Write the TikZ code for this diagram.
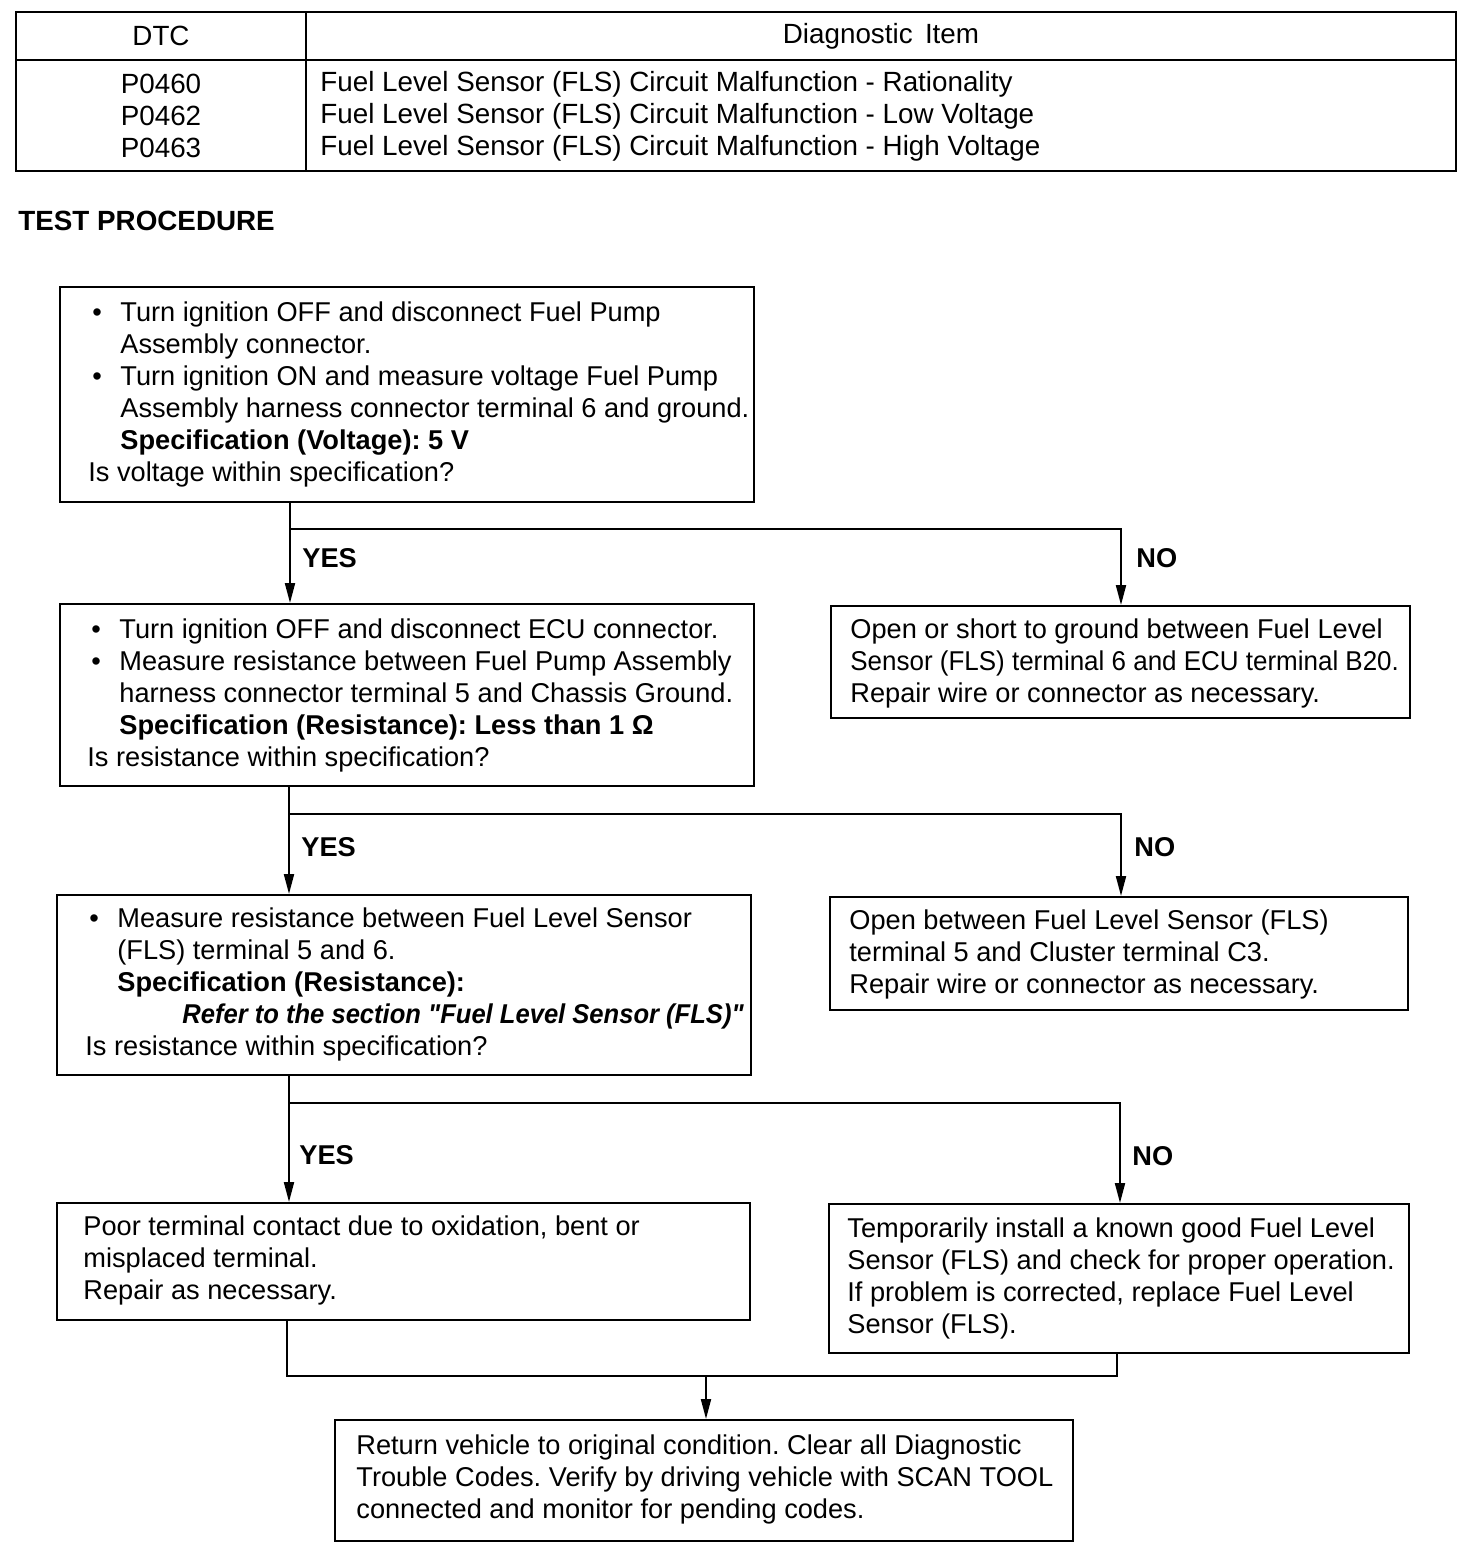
\documentclass[tikz,border=0pt]{standalone}
\usepackage{fontspec}
\usepackage{graphicx}
\setmainfont{Liberation Sans}[Ligatures=TeXOff,BoldItalicFeatures={FakeStretch=0.94}]
\usetikzlibrary{arrows.meta}
\frenchspacing
\newcommand\fs{\fontsize{13.6}{16}\selectfont}
\newcommand\tfs{\fontsize{13.9}{16}\selectfont}
\newcommand\bl{\makebox[16pt][l]{\hspace{2pt}\textbullet}}
\newcommand\ci{\hspace*{16pt}}
\begin{document}
\begin{tikzpicture}[x=0.5pt,y=-0.5pt,
  ln/.style={line width=1pt},
  arr/.style={line width=1pt,-{Triangle[length=10pt,width=5pt]}},
  box/.style={draw,line width=1pt,inner sep=0pt},
  txt/.style={font=\fs,align=left,inner sep=0pt,anchor=west},
  ttxt/.style={font=\tfs,align=left,inner sep=0pt,anchor=west},
  ctxt/.style={font=\tfs,inner sep=0pt},
  lbl/.style={font=\fs\bfseries,inner sep=0pt,anchor=west}]
\useasboundingbox (0,0) rectangle (1472,1560);
% table
\draw[ln] (16,12) rectangle (1456,171);
\draw[ln] (16,60) -- (1456,60);
\draw[ln] (306,12) -- (306,171);
\node[ctxt] (h1) at (161,36) {DTC};
\node[ctxt] (h2) at (881,36) {Diagnostic\, Item};
\node[ctxt] (c1) at (161,84) {P0460};
\node[ctxt] (c2) at (161,116) {P0462};
\node[ctxt] (c3) at (161,148) {P0463};
\node[ttxt] (d1) at (320,84) {Fuel Level Sensor (FLS) Circuit Malfunction - Rationality};
\node[ttxt] (d2) at (320,116) {Fuel Level Sensor (FLS) Circuit Malfunction - Low Voltage};
\node[ttxt] (d3) at (320,148) {Fuel Level Sensor (FLS) Circuit Malfunction - High Voltage};
\node[lbl,font=\tfs\bfseries] (tp) at (18,221) {TEST PROCEDURE};
% boxes
\node[box,minimum width=347pt,minimum height=107.5pt] (b1) at (407,394.5) {};
\node[txt] (t1) at (88,394.5) {\bl Turn ignition OFF and disconnect Fuel Pump\\
\ci Assembly connector.\\
\bl Turn ignition ON and measure voltage Fuel Pump\\
\ci Assembly harness connector terminal 6 and ground.\\
\ci\textbf{Specification (Voltage): 5 V}\\
Is voltage within specification?};
\node[box,minimum width=347pt,minimum height=91pt] (b2) at (407,695) {};
\node[txt] (t2) at (87,695) {\bl Turn ignition OFF and disconnect ECU connector.\\
\bl Measure resistance between Fuel Pump Assembly\\
\ci harness connector terminal 5 and Chassis Ground.\\
\ci\textbf{Specification (Resistance): Less than 1 Ω}\\
Is resistance within specification?};
\node[box,minimum width=289.5pt,minimum height=56pt] (r1) at (1120.5,662) {};
\node[txt] (s1) at (850,663) {Open or short to ground between Fuel Level\\
\scalebox{0.955}[1]{Sensor (FLS) terminal 6 and ECU terminal B20.}\\
Repair wire or connector as necessary.};
\node[box,minimum width=347pt,minimum height=90pt] (b3) at (404,985) {};
\node[txt] (t3) at (85,984) {\bl Measure resistance between Fuel Level Sensor\\
\ci (FLS) terminal 5 and 6.\\
\ci\textbf{Specification (Resistance):}\\
\hspace*{48.5pt}\textbf{\textit{Refer to the section "Fuel Level Sensor (FLS)"}}\\
Is resistance within specification?};
\node[box,minimum width=289pt,minimum height=56.5pt] (r2) at (1119,953.5) {};
\node[txt] (s2) at (849,954) {Open between Fuel Level Sensor (FLS)\\
terminal 5 and Cluster terminal C3.\\
Repair wire or connector as necessary.};
\node[box,minimum width=346.5pt,minimum height=58.5pt] (b4) at (403.5,1261.5) {};
\node[txt] (t4) at (83,1260) {Poor terminal contact due to oxidation, bent or\\
misplaced terminal.\\
Repair as necessary.};
\node[box,minimum width=290pt,minimum height=74.5pt] (r3) at (1119,1278.5) {};
\node[txt] (s3) at (847,1278.5) {Temporarily install a known good Fuel Level\\
Sensor (FLS) and check for proper operation.\\
If problem is corrected, replace Fuel Level\\
Sensor (FLS).};
\node[box,minimum width=369pt,minimum height=60.5pt] (b5) at (704,1480.5) {};
\node[txt] (t5) at (356,1479) {Return vehicle to original condition. Clear all Diagnostic\\
Trouble Codes. Verify by driving vehicle with SCAN TOOL\\
connected and monitor for pending codes.};
% connectors
\coordinate (j1) at (290,529); \coordinate (k1) at (1121,529);
\coordinate (j2) at (289,814); \coordinate (k2) at (1121,814);
\coordinate (j3) at (289,1103); \coordinate (k3) at (1120,1103);
\draw[arr] (b1.south -| j1) -- (b2.north -| j1);
\draw[arr] (j1) -- (k1) -- (r1.north -| k1);
\draw[arr] (b2.south -| j2) -- (b3.north -| j2);
\draw[arr] (j2) -- (k2) -- (r2.north -| k2);
\draw[arr] (b3.south -| j3) -- (b4.north -| j3);
\draw[arr] (j3) -- (k3) -- (r3.north -| k3);
\coordinate (m1) at (287,1376); \coordinate (m2) at (1117,1376); \coordinate (m3) at (706,1376);
\draw[ln] (b4.south -| m1) -- (m1) -- (m2) -- (r3.south -| m2);
\draw[arr] (m3) -- (b5.north -| m3);
% labels
\node[lbl] (y1) at (302,558) {YES};
\node[lbl] (n1) at (1136,558) {NO};
\node[lbl] (y2) at (301,847) {YES};
\node[lbl] (n2) at (1134,847) {NO};
\node[lbl] (y3) at (299,1155) {YES};
\node[lbl] (n3) at (1132,1156) {NO};
\end{tikzpicture}
\end{document}
